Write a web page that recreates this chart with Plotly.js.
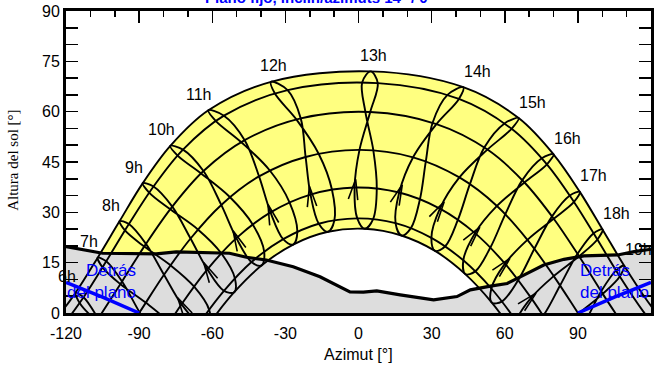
<!DOCTYPE html>
<html><head><meta charset="utf-8">
<script src="https://cdn.plot.ly/plotly-3.0.1.min.js"></script>
<style>html,body{margin:0;padding:0;background:#fff;}#chart{width:664px;height:369px;}</style>
</head><body><div id="chart"></div>
<script>
// Legal hours of the hour lines
const hours = [6,7,8,9,10,11,12,13,14,15,16,17,18,19];
const hourLabels = ['6h','7h','8h','9h','10h','11h','12h','13h','14h','15h','16h','17h','18h','19h'];

// Sun position (azimuth, altitude in degrees) at each legal hour, per date
const dec22_az  = [-79.4,-70.4,-61.2,-51.0,-39.7,-26.8,-12.5,2.6,17.6,31.4,43.8,54.7,64.4,73.5];
const dec22_alt = [-24.3,-13.4,-3.2,6.2,14.2,20.4,24.2,25.1,23.1,18.5,11.6,3.1,-6.6,-17.1];
const jan19_az  = [-84.0,-74.7,-65.3,-55.2,-43.9,-30.9,-16.3,-0.5,15.2,29.9,43.0,54.5,64.7,74.1];
const jan19_alt = [-24.7,-13.7,-3.1,6.6,15.2,22.0,26.6,28.2,26.8,22.4,15.7,7.3,-2.4,-13.0];
const feb20_az  = [-92.2,-82.4,-72.6,-62.0,-50.1,-36.1,-19.7,-1.6,16.7,33.4,47.8,60.1,70.8,80.7];
const feb20_alt = [-19.6,-8.4,2.6,13.0,22.3,30.0,35.3,37.4,35.9,31.1,23.8,14.7,4.5,-6.4];
const mar20_az  = [-99.9,-89.8,-79.8,-68.9,-56.3,-40.8,-21.7,0.4,22.4,41.4,56.8,69.3,80.1,90.2];
const mar20_alt = [-11.0,0.2,11.4,22.2,32.2,40.7,46.5,48.6,46.4,40.4,31.9,21.8,11.0,-0.2];
const apr20_az  = [-106.8,-97.0,-87.2,-76.4,-63.6,-46.7,-23.7,4.8,32.0,52.9,68.1,80.1,90.5,100.2];
const apr20_alt = [-1.7,9.4,20.6,31.7,42.3,51.5,58.0,59.9,56.3,48.7,38.9,28.1,16.9,5.7];
const may21_az  = [-112.8,-103.5,-94.2,-84.1,-72.0,-55.2,-29.1,7.9,41.2,62.8,77.3,88.4,98.0,107.2];
const may21_alt = [4.7,15.4,26.5,37.7,48.7,58.8,66.4,68.5,63.8,54.9,44.3,33.1,21.9,10.9];
const jun22_az  = [-116.1,-107.0,-98.0,-88.5,-77.2,-61.6,-35.9,5.0,43.0,65.7,80.0,90.8,100.1,109.0];
const jun22_alt = [6.0,16.5,27.4,38.7,49.8,60.4,68.9,72.0,67.3,58.1,47.3,36.1,24.9,14.1];
const jul23_az  = [-114.4,-105.0,-95.8,-85.9,-74.2,-58.5,-34.3,1.5,36.5,59.9,75.2,86.7,96.5,105.7];
const jul23_alt = [3.0,13.6,24.6,35.9,46.9,57.2,65.4,68.7,65.0,56.5,46.1,35.0,23.8,12.7];
const aug23_az  = [-107.5,-97.7,-87.9,-77.2,-64.6,-48.1,-25.5,2.8,30.4,51.6,67.2,79.4,89.8,99.5];
const aug23_alt = [-2.4,8.6,19.8,30.9,41.6,50.9,57.7,60.0,56.7,49.3,39.6,28.8,17.6,6.4];
const sep23_az  = [-97.3,-87.3,-77.1,-65.9,-52.7,-36.3,-16.3,6.1,27.6,45.7,60.2,72.2,82.7,92.7];
const sep23_alt = [-8.2,3.1,14.2,24.9,34.5,42.4,47.4,48.4,45.1,38.4,29.4,19.2,8.2,-3.1];
const oct23_az  = [-87.3,-77.6,-67.5,-56.3,-43.4,-28.3,-10.9,7.5,25.2,40.8,54.1,65.5,75.8,85.5];
const oct23_alt = [-14.0,-2.9,7.9,17.8,26.4,33.0,36.8,37.1,33.9,27.8,19.5,9.8,-0.8,-11.9];
const nov22_az  = [-80.1,-70.9,-61.3,-50.7,-38.7,-25.1,-9.9,6.0,21.5,35.6,47.9,58.8,68.6,77.9];
const nov22_alt = [-20.2,-9.3,1.0,10.3,18.3,24.2,27.6,28.0,25.3,19.9,12.4,3.4,-6.7,-17.5];

// Extra points near sunrise / sunset for the long day curves
const jun22_extraH = [5,20,21];  const jun22_extraAz = [-126.0,118.3,128.3]; const jun22_extraAlt = [-3.6,3.8,-5.7];
const may21_extraH = [5,20,21];  const may21_extraAz = [-122.8,116.8,127.2]; const may21_extraAlt = [-5.3,0.5,-9.0];
const apr20_extraH = [20];       const apr20_extraAz = [110.1];              const apr20_extraAlt = [-5.2];
const mar20_extraH = [20];       const mar20_extraAz = [100.2];              const mar20_extraAlt = [-11.4];

// Far horizon profile
const horizon_az  = [-120,-105,-83,-74.8,-52.9,-46,-37.8,-26.8,-15.8,-7.6,-3.5,2.0,7.5,17.1,30.8,40.4,45.9,54.1,61.0,67.8,76.0,84.3,92.5,106.3,113.1,120];
const horizon_alt = [19.8,17.8,17.6,18.2,17.8,16.6,15.8,13.8,10.8,7.8,6.3,6.2,6.6,5.4,3.9,4.9,6.9,8.0,8.8,11.3,14.3,16.0,17.0,17.3,18.3,19.0];

// "Behind the plane" limits
const behindL_az = [-120,-105,-90]; const behindL_alt = [9.1,4.7,0];
const behindR_az = [90,105,120];    const behindR_alt = [0,4.7,9.1];

const xTickVals = [-120,-90,-60,-30,0,30,60,90,120];
const xTickLabels = ['-120','-90','-60','-30','0','30','60','90','120'];
const arrowHours = [8,9,10,11,12,13,14,15,16,17,18];

// ---------- build ----------
function merged(az, alt, exH, exAz, exAlt){
  const pts = hours.map((h,i)=>({h:h, x:az[i], y:alt[i]}));
  (exH||[]).forEach((h,i)=>pts.push({h:h, x:exAz[i], y:exAlt[i]}));
  pts.sort((a,b)=>a.h-b.h);
  return {x:pts.map(p=>p.x), y:pts.map(p=>p.y)};
}
const dayCurves = [
  merged(jun22_az,jun22_alt,jun22_extraH,jun22_extraAz,jun22_extraAlt),
  merged(may21_az,may21_alt,may21_extraH,may21_extraAz,may21_extraAlt),
  merged(apr20_az,apr20_alt,apr20_extraH,apr20_extraAz,apr20_extraAlt),
  merged(mar20_az,mar20_alt,mar20_extraH,mar20_extraAz,mar20_extraAlt),
  merged(feb20_az,feb20_alt),
  merged(jan19_az,jan19_alt),
  merged(dec22_az,dec22_alt)
];
const traces = [];
const BL = '#000';
const jun = dayCurves[0], dec = dayCurves[6];
traces.push({x: jun.x.concat(dec.x.slice().reverse()), y: jun.y.concat(dec.y.slice().reverse()),
  mode:'lines', fill:'toself', fillcolor:'#ffff80', line:{width:0, shape:'spline', color:'rgba(0,0,0,0)'}, hoverinfo:'skip'});
traces.push({x:[-122,-122].concat(horizon_az,[122,122]), y:[-2,horizon_alt[0]].concat(horizon_alt,[horizon_alt[horizon_alt.length-1],-2]),
  mode:'lines', fill:'toself', fillcolor:'#dddddd', line:{width:0,color:'rgba(0,0,0,0)'}, hoverinfo:'skip'});
dayCurves.forEach(c=>traces.push({x:c.x, y:c.y, mode:'lines', line:{color:BL, width:1.9, shape:'spline'}, hoverinfo:'skip'}));
const loopAz  = [mar20_az, apr20_az, may21_az, jun22_az, jul23_az, aug23_az, sep23_az, oct23_az, nov22_az, dec22_az, jan19_az, feb20_az, mar20_az];
const loopAlt = [mar20_alt, apr20_alt, may21_alt, jun22_alt, jul23_alt, aug23_alt, sep23_alt, oct23_alt, nov22_alt, dec22_alt, jan19_alt, feb20_alt, mar20_alt];
hours.forEach((h,i)=>{
  traces.push({x: loopAz.map(a=>a[i]), y: loopAlt.map(a=>a[i]), mode:'lines', line:{color:BL, width:1.9, shape:'spline', smoothing:1}, hoverinfo:'skip'});
});
const kx = 583.3/240, ky = 302/90;
const ax=[], ay=[];
arrowHours.forEach(h=>{
  const i = hours.indexOf(h);
  const A = [feb20_az[i], feb20_alt[i]], B = [mar20_az[i], mar20_alt[i]];
  const t = [A[0]+0.22*(B[0]-A[0]), A[1]+0.22*(B[1]-A[1])];
  let dx = (A[0]-B[0])*kx, dy = (A[1]-B[1])*ky;
  const n = Math.hypot(dx,dy); dx/=n; dy/=n;
  const L = 21, th = 13*Math.PI/180;
  [-th, th].forEach((a,k)=>{
    const wx = (dx*Math.cos(a)-dy*Math.sin(a))*L, wy = (dx*Math.sin(a)+dy*Math.cos(a))*L;
    if(k===0){ ax.push(t[0]+wx/kx); ay.push(t[1]+wy/ky); ax.push(t[0]); ay.push(t[1]); }
    else { ax.push(t[0]+wx/kx); ay.push(t[1]+wy/ky); ax.push(null); ay.push(null); }
  });
});
traces.push({x:ax, y:ay, mode:'lines', line:{color:BL, width:1.6}, hoverinfo:'skip'});
traces.push({x:horizon_az, y:horizon_alt, mode:'lines', line:{color:BL, width:3.2}, hoverinfo:'skip'});
traces.push({x:behindL_az, y:behindL_alt, mode:'lines', line:{color:'#0000ff', width:3.5}, hoverinfo:'skip'});
traces.push({x:behindR_az, y:behindR_alt, mode:'lines', line:{color:'#0000ff', width:3.5}, hoverinfo:'skip'});
traces.push({x:[0], y:[-50], xaxis:'x2', mode:'markers', marker:{opacity:0}, hoverinfo:'skip'});

const F = 'Liberation Sans, Arial, sans-serif';
const annotations = hours.map((h,i)=>{
  const a = jun22_az[i];
  const xs = a < -45 ? -9 : (a < 20 ? 3 : 14);
  return {x:a, y:jun22_alt[i], xref:'x', yref:'y', text:hourLabels[i], showarrow:false,
    xshift:xs, yshift:16, font:{family:F, size:16, color:'#000'}};
});
annotations.push({x:-90.5, y:9.4, xref:'x', yref:'y', text:'Detrás<br>del plano', showarrow:false,
  xanchor:'right', yanchor:'middle', align:'right', font:{family:F, size:17, color:'#0000ff'}});
annotations.push({x:90, y:9.4, xref:'x', yref:'y', text:'Detrás<br>del plano', showarrow:false,
  xanchor:'left', yanchor:'middle', align:'left', font:{family:F, size:17, color:'#0000ff'}});
annotations.push({x:0.5, y:-0.136, xref:'paper', yref:'paper', text:'Azimut [°]', showarrow:false,
  font:{family:F, size:16, color:'#000'}, yanchor:'middle'});
annotations.push({x:-0.09, y:0.505, xref:'paper', yref:'paper', text:'Altura del sol [°]', showarrow:false, textangle:-90,
  font:{family:'Liberation Serif, Times New Roman, serif', size:15, color:'#000'}, xanchor:'center', yanchor:'middle'});
annotations.push({x:0.434, y:1, xref:'paper', yref:'paper', text:'<b>Plano fijo, inclin/azimuts 14° / 0°</b>', showarrow:false,
  yanchor:'bottom', yshift:3, font:{family:F, size:15, color:'#0000ff'}});

const layout = {
  width:664, height:369, margin:{l:66, r:13, t:11, b:56},
  paper_bgcolor:'#fff', plot_bgcolor:'#fff', showlegend:false,
  xaxis:{range:[-120,120], tickvals:xTickVals, ticktext:xTickLabels, ticks:'', showgrid:false, zeroline:false,
    showline:true, linewidth:3, linecolor:'#000', mirror:true, tickfont:{family:F, size:16, color:'#000'}, ticklabelstandoff:4, fixedrange:true},
  xaxis2:{overlaying:'x', side:'top', range:[-120,120], tick0:-120, dtick:30, ticks:'inside', ticklen:12, tickwidth:1.5, tickcolor:'#000',
    minor:{dtick:10, tick0:-120, ticks:'inside', ticklen:6, tickwidth:1.5, tickcolor:'#000'},
    showticklabels:false, showgrid:false, zeroline:false, showline:false},
  yaxis:{range:[0,90], tick0:0, dtick:15, ticks:'inside', ticklen:12, tickwidth:1.5, tickcolor:'#000',
    minor:{dtick:5, ticks:'inside', ticklen:6, tickwidth:1.5, tickcolor:'#000'},
    showgrid:false, zeroline:false, showline:true, linewidth:3, linecolor:'#000', mirror:'allticks',
    tickfont:{family:F, size:16, color:'#000'}, fixedrange:true},
  annotations:annotations
};
Plotly.newPlot('chart', traces, layout, {displayModeBar:false, staticPlot:true});
</script></body></html>
